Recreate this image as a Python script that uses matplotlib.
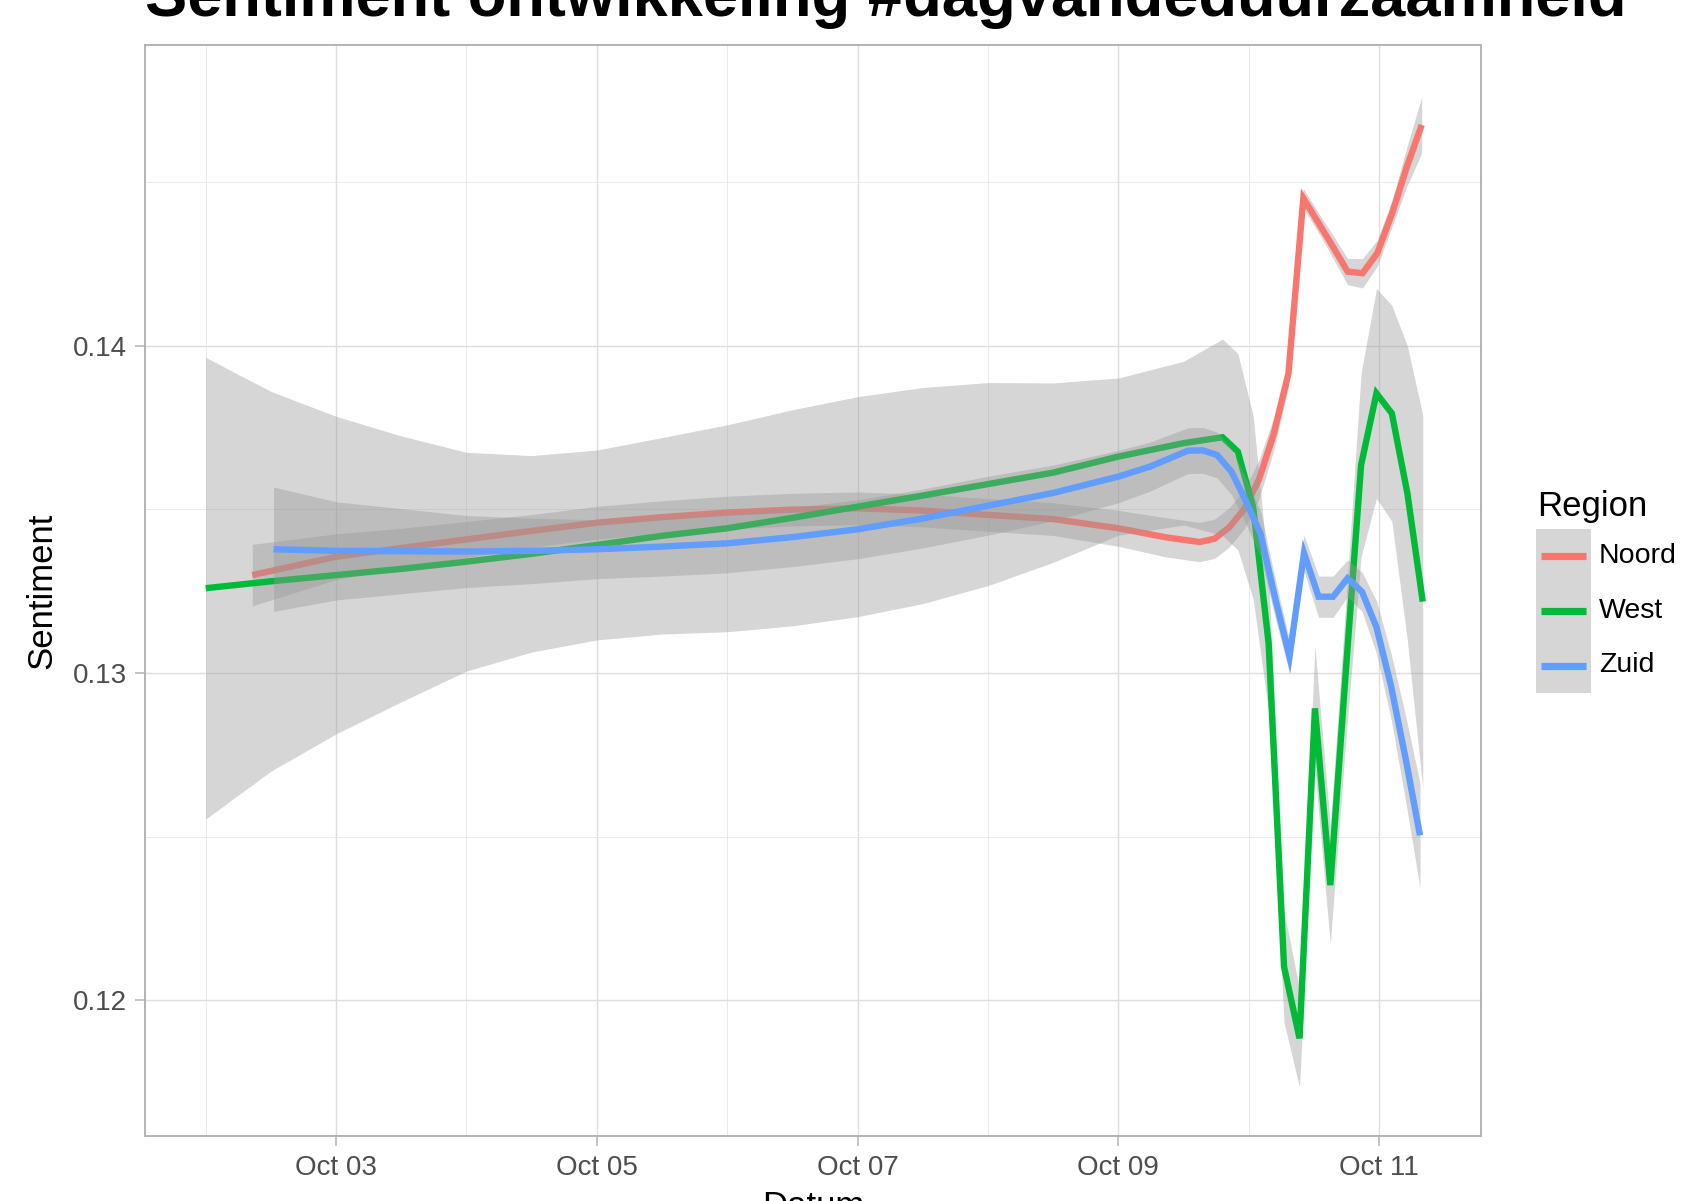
import numpy as np
import matplotlib
matplotlib.use('Agg')
import matplotlib.pyplot as plt
import matplotlib.dates as mdates
from matplotlib.ticker import MultipleLocator, FormatStrFormatter
from matplotlib.lines import Line2D
from matplotlib.patches import Rectangle
from datetime import datetime, timedelta

plt.rcParams['font.family'] = ['Liberation Sans', 'DejaVu Sans']

title = 'Sentiment ontwikkeling #dagvandeduurzaamheid'
regions = ['Noord', 'West', 'Zuid']
colors = ['#F8766D', '#00BA38', '#619CFF']

# Day of October (fractional) of each smoothed-curve vertex, fitted value, CI half-width
noord_day = [2.357, 3.0, 3.5, 4.0, 4.5, 5.0, 5.5, 6.0, 6.5, 7.0, 7.5, 8.0, 8.5, 9.0,
             9.37, 9.623, 9.737, 9.850, 9.964, 10.077, 10.191, 10.304, 10.418, 10.531,
             10.645, 10.758, 10.872, 10.985, 11.099, 11.212, 11.326]
noord_val = [0.13299, 0.13355, 0.13382, 0.13408, 0.13434, 0.13459, 0.13476, 0.13490,
             0.13499, 0.13503, 0.13496, 0.13483, 0.13470, 0.13442, 0.13414, 0.13400,
             0.13410, 0.13445, 0.13500, 0.13590, 0.13730, 0.13915, 0.14450, 0.14377,
             0.14302, 0.14226, 0.14221, 0.14282, 0.14404, 0.14546, 0.14674]
noord_se = [0.00094, 0.0007, 0.0006, 0.00055, 0.0005, 0.0005, 0.0005, 0.0005, 0.0005,
            0.0005, 0.0005, 0.0005, 0.0005, 0.00055, 0.0006, 0.0006, 0.0006, 0.0006,
            0.0006, 0.0006, 0.0005, 0.0004, 0.0003, 0.0003, 0.00035, 0.0004, 0.00045,
            0.0004, 0.0004, 0.0006, 0.00086]

west_day = [2.0, 2.5, 3.0, 3.5, 4.0, 4.5, 5.0, 5.5, 6.0, 6.5, 7.0, 7.5, 8.0, 8.5, 9.0,
            9.5, 9.798, 9.916, 10.034, 10.152, 10.270, 10.389, 10.507, 10.625, 10.743,
            10.861, 10.979, 11.097, 11.216, 11.334]
west_val = [0.13259, 0.13280, 0.13299, 0.13318, 0.13340, 0.13364, 0.13391, 0.13419,
            0.13442, 0.13474, 0.13508, 0.13542, 0.13577, 0.13612, 0.13661, 0.13702,
            0.13720, 0.13676, 0.13505, 0.13090, 0.12103, 0.11884, 0.12892, 0.12352,
            0.13000, 0.13635, 0.13854, 0.13793, 0.13549, 0.13218]
west_se = [0.00705, 0.0058, 0.00485, 0.00406, 0.00334, 0.0030, 0.0029, 0.0030, 0.00316,
           0.0033, 0.00336, 0.0033, 0.0031, 0.00274, 0.0024, 0.0025, 0.0030, 0.0030,
           0.0028, 0.0021, 0.0017, 0.0015, 0.0019, 0.0018, 0.0021, 0.0028, 0.0032,
           0.0033, 0.0045, 0.0057]

zuid_day = [2.52, 3.0, 3.5, 4.0, 4.5, 5.0, 5.5, 6.0, 6.5, 7.0, 7.5, 8.0, 8.5, 9.0, 9.24,
            9.533, 9.645, 9.756, 9.867, 9.978, 10.090, 10.201, 10.312, 10.423, 10.535,
            10.646, 10.757, 10.868, 10.979, 11.091, 11.202, 11.313]
zuid_val = [0.13378, 0.13373, 0.13372, 0.13371, 0.13373, 0.13378, 0.13386, 0.13396,
            0.13415, 0.13439, 0.13472, 0.13511, 0.13550, 0.13600, 0.13630, 0.13679,
            0.13680, 0.13666, 0.13615, 0.13525, 0.13425, 0.13230, 0.13050, 0.13366,
            0.13233, 0.13233, 0.13289, 0.13248, 0.13140, 0.12960, 0.12740, 0.12504]
zuid_se = [0.0019, 0.0015, 0.0013, 0.0011, 0.0010, 0.0009, 0.0009, 0.0009, 0.0009,
           0.0009, 0.0009, 0.0009, 0.00085, 0.0008, 0.00075, 0.0007, 0.0007, 0.0007,
           0.0007, 0.0007, 0.0007, 0.0006, 0.0005, 0.00055, 0.00063, 0.00063, 0.00056,
           0.0006, 0.0008, 0.0010, 0.0013, 0.0016]

series = [(noord_day, noord_val, noord_se),
          (west_day, west_val, west_se),
          (zuid_day, zuid_val, zuid_se)]

base = datetime(2016, 10, 1)


def to_dates(days):
    return mdates.date2num([base + timedelta(days=d - 1) for d in days])


W, H = 1683, 1201
fig = plt.figure(figsize=(W / 100, H / 100), dpi=100)
L, R, T, B = 145, 1481, 45, 1136
ax = fig.add_axes([L / W, 1 - B / H, (R - L) / W, (B - T) / H])

z = 3
for (d, v, s), col in zip(series, colors):
    x = to_dates(d)
    v = np.array(v)
    s = np.array(s)
    ax.fill_between(x, v - s, v + s, color='#999999', alpha=0.4, lw=0, zorder=z)
    ax.plot(x, v, color=col, lw=4.6, solid_capstyle='butt', solid_joinstyle='miter', zorder=z + 1)
    z += 2

ax.set_xlim(to_dates([1.5345, 11.7807]))
ax.set_ylim(0.115858, 0.149181)

ax.xaxis.set_major_locator(mdates.DayLocator(bymonthday=[3, 5, 7, 9, 11]))
ax.xaxis.set_minor_locator(mdates.DayLocator(bymonthday=[2, 4, 6, 8, 10, 12]))
ax.xaxis.set_major_formatter(mdates.DateFormatter('%b %d'))
ax.yaxis.set_major_locator(MultipleLocator(0.01))
ax.yaxis.set_minor_locator(MultipleLocator(0.005))
ax.yaxis.set_major_formatter(FormatStrFormatter('%.2f'))

ax.set_axisbelow(True)
ax.grid(which='major', color='#DEDEDE', lw=1.0)
ax.grid(which='minor', color='#E6E6E6', lw=0.6)
for sp in ax.spines.values():
    sp.set_color('#B3B3B3')
    sp.set_linewidth(1.4)
    sp.set_zorder(20)

ax.tick_params(which='major', length=7.2, width=1.1, color='#B3B3B3',
               labelsize=20, labelcolor='#4D4D4D')
ax.tick_params(axis='x', which='major', pad=6.5)
ax.tick_params(axis='y', which='major', pad=6)
ax.tick_params(which='minor', length=0)

ax.set_ylabel('Sentiment', fontsize=25, color='black')
ax.yaxis.set_label_coords((41.7 - L) / (R - L), 0.5)
ax.yaxis.label.set_va('center')
ax.set_xlabel('Datum', fontsize=25, color='black')
ax.xaxis.set_label_coords(0.5, (B - 1216) / (B - T))
ax.xaxis.label.set_va('baseline')

fig.text(L / W, 1 - 16 / H, title, fontsize=45.5, fontweight='bold',
         ha='left', va='baseline', color='black')

# Legend
fig.text(1537 / W, 1 - 515.7 / H, 'Region', fontsize=25, ha='left', va='baseline')
key_top, key_h, key_x0, key_x1 = 529, 54.6, 1536, 1591
fig.add_artist(Rectangle((key_x0 / W, 1 - (key_top + key_h * len(regions)) / H),
                         (key_x1 - key_x0) / W, key_h * len(regions) / H,
                         transform=fig.transFigure, facecolor='#999999', alpha=0.4, lw=0))
for i, (name, col) in enumerate(zip(regions, colors)):
    yc = key_top + key_h * (i + 0.5)
    fig.add_artist(Line2D([1541 / W, 1586 / W], [1 - yc / H, 1 - yc / H],
                          transform=fig.transFigure, color=col, lw=5.2, solid_capstyle='butt'))
    fig.text(1599 / W, 1 - yc / H, name, fontsize=20.5, ha='left', va='center')

fig.savefig('out.png', dpi=100)
